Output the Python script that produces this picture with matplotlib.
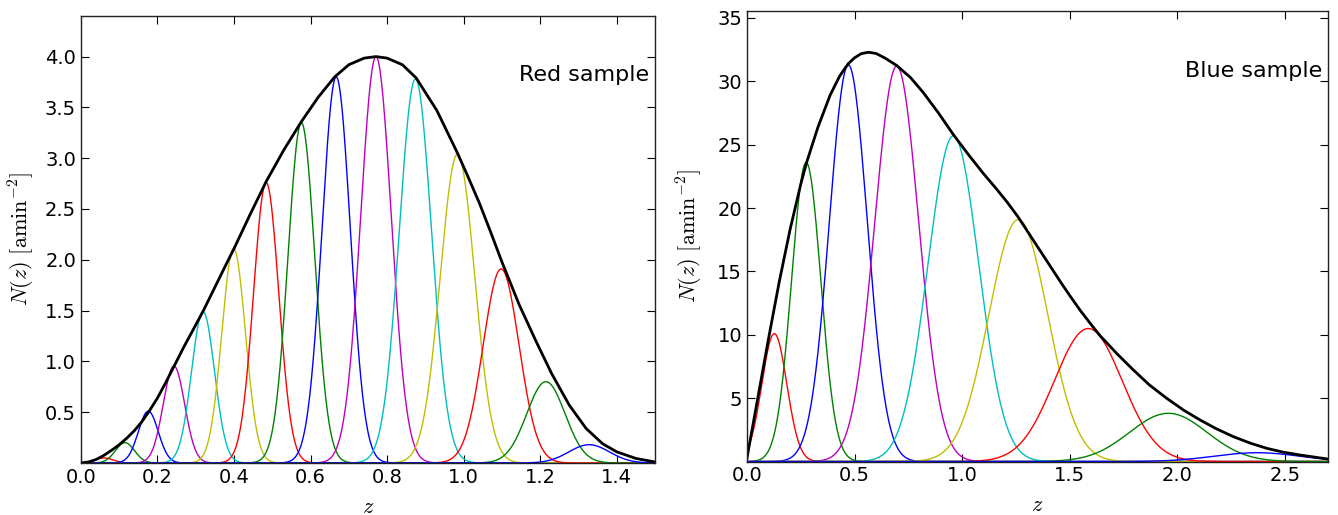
import numpy as np
import matplotlib
matplotlib.use("Agg")
import matplotlib.pyplot as plt

plt.rcParams['mathtext.fontset'] = 'cm'
plt.rcParams['font.family'] = ['DejaVu Sans']

# --- Red sample: total N(z)
red_z = [0.0, 0.02, 0.04, 0.06, 0.08, 0.10, 0.12, 0.14, 0.16, 0.18, 0.20, 0.22, 0.245,
         0.27, 0.293, 0.32, 0.35, 0.38, 0.40, 0.44, 0.484, 0.53, 0.576, 0.62, 0.663,
         0.70, 0.74, 0.771, 0.80, 0.84, 0.876, 0.93, 0.984, 1.01, 1.041, 1.07, 1.10,
         1.145, 1.189, 1.23, 1.276, 1.32, 1.363, 1.40, 1.45, 1.5]
red_n = [0.0, 0.01, 0.035, 0.075, 0.125, 0.18, 0.245, 0.32, 0.41, 0.52, 0.64, 0.78, 0.965,
         1.15, 1.31, 1.50, 1.73, 1.96, 2.11, 2.43, 2.77, 3.08, 3.36, 3.60, 3.80,
         3.92, 3.985, 4.0, 3.985, 3.92, 3.79, 3.47, 3.05, 2.83, 2.56, 2.28, 1.98,
         1.56, 1.20, 0.88, 0.57, 0.34, 0.19, 0.11, 0.045, 0.01]

# tomographic bins of the red sample (centre, peak, width)
red_bin_z = [0.06, 0.115, 0.176, 0.243, 0.319, 0.399, 0.484, 0.576, 0.667, 0.771,
             0.874, 0.984, 1.098, 1.215, 1.328]
red_bin_amp = [0.05, 0.20, 0.51, 0.955, 1.49, 2.11, 2.76, 3.35, 3.80, 4.0,
               3.78, 3.04, 1.91, 0.80, 0.18]
red_bin_sig = [0.024, 0.025, 0.026, 0.028, 0.030, 0.031, 0.033, 0.035, 0.037, 0.040,
               0.042, 0.045, 0.047, 0.050, 0.053]

# --- Blue sample
blue_z = [0.0, 0.05, 0.10, 0.15, 0.20, 0.25, 0.277, 0.33, 0.386, 0.43, 0.45, 0.471,
          0.50, 0.53, 0.564, 0.60, 0.64, 0.696, 0.76, 0.82, 0.89, 0.959, 1.03, 1.10,
          1.16, 1.21, 1.26, 1.31, 1.36, 1.41, 1.46, 1.50, 1.55, 1.60, 1.64, 1.72,
          1.795, 1.87, 1.95, 2.03, 2.105, 2.18, 2.26, 2.34, 2.415, 2.49, 2.57, 2.7]
blue_n = [0.3, 5.0, 9.7, 14.2, 18.3, 21.9, 23.6, 26.4, 28.9, 30.4, 30.9, 31.4,
          31.86, 32.18, 32.3, 32.2, 31.85, 31.25, 30.3, 29.1, 27.5, 25.8, 24.2, 22.7,
          21.5, 20.45, 19.3, 18.0, 16.7, 15.4, 14.1, 13.1, 11.9, 10.8, 9.95, 8.5,
          7.24, 6.05, 5.0, 4.05, 3.29, 2.6, 1.97, 1.45, 1.05, 0.75, 0.52, 0.2]

blue_bin_z = [0.127, 0.275, 0.471, 0.696, 0.959, 1.261, 1.586, 1.958, 2.37]
blue_bin_amp = [10.1, 23.6, 31.3, 31.2, 25.7, 19.1, 10.5, 3.81, 0.7]
blue_bin_sig = [0.058, 0.068, 0.088, 0.102, 0.118, 0.137, 0.158, 0.18, 0.20]

bin_colors = ['r', 'g', 'b', 'm', 'c', 'y']


def draw_panel(ax, z, n, bz, bamp, bsig, zmax, label):
    zz = np.linspace(0, zmax, 1000)
    for i in range(len(bz)):
        curve = bamp[i] * np.exp(-0.5 * ((zz - bz[i]) / bsig[i]) ** 2)
        ax.plot(zz, curve, color=bin_colors[i % len(bin_colors)], lw=1)
    ax.plot(z, n, color='k', lw=2)
    ax.set_xlim(0, zmax)
    ax.set_ylim(0, 1.1 * max(n))
    ax.text(0.99, 0.868, label, transform=ax.transAxes, ha='right', va='center',
            fontsize=16)
    ax.set_xlabel(r'$z$', fontsize=16)
    ax.set_ylabel(r'$N(z)\ [\mathrm{amin}^{-2}]$', fontsize=16)
    ax.tick_params(direction='in', top=True, right=True, length=5.5, width=0.8,
                   labelsize=14)
    for s in ax.spines.values():
        s.set_linewidth(1.0)
        s.set_color('#222222')


fig = plt.figure(figsize=(13.38, 5.15), dpi=100)
ax1 = fig.add_axes([0.0605, 0.101, 0.429, 0.868])
ax2 = fig.add_axes([0.5583, 0.1037, 0.4342, 0.8744])

draw_panel(ax1, red_z, red_n, red_bin_z, red_bin_amp, red_bin_sig, 1.5, 'Red sample')
ax1.set_xticks(np.arange(0, 1.41, 0.2))
ax1.set_xticklabels(['%.1f' % v for v in np.arange(0, 1.41, 0.2)])
ax1.set_yticks(np.arange(0.5, 4.01, 0.5))
ax1.set_yticklabels(['%.1f' % v for v in np.arange(0.5, 4.01, 0.5)])

draw_panel(ax2, blue_z, blue_n, blue_bin_z, blue_bin_amp, blue_bin_sig, 2.7, 'Blue sample')
ax2.set_xticks(np.arange(0, 2.51, 0.5))
ax2.set_xticklabels(['%.1f' % v for v in np.arange(0, 2.51, 0.5)])
ax2.set_yticks(range(5, 36, 5))

ax1.xaxis.set_label_coords(0.5, -0.075)
ax2.xaxis.set_label_coords(0.5, -0.075)
ax1.yaxis.set_label_coords(-0.077, 0.5)
ax2.yaxis.set_label_coords(-0.072, 0.5)

fig.savefig('out.png', dpi=100)
